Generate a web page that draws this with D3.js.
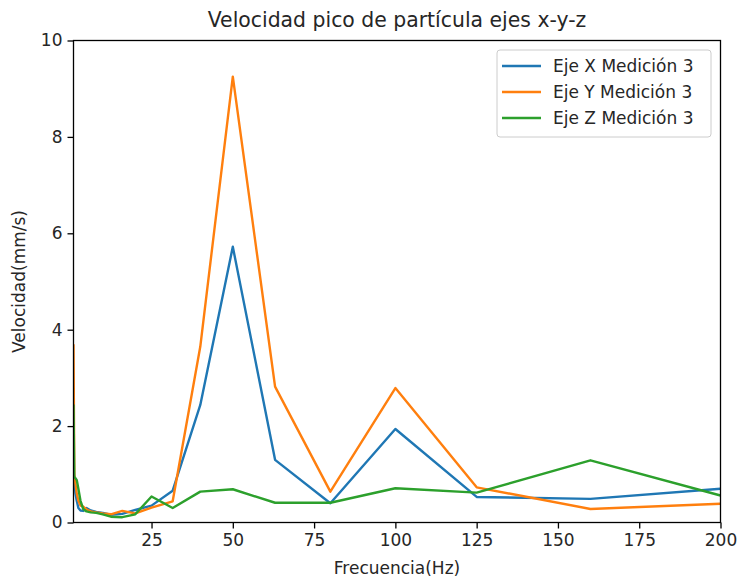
<!DOCTYPE html>
<html>
<head>
<meta charset="utf-8">
<script src="https://cdn.jsdelivr.net/npm/d3@7"></script>
<style>
  body { margin: 0; background: #fff; }
  text { font-family: "DejaVu Sans", sans-serif; fill: #262626; }
</style>
</head>
<body>
<div id="chart"></div>
<script>
// frecuencias de tercio de octava
const frecuencias = [1, 1.25, 1.6, 2, 2.5, 3.15, 4, 5, 6.3, 8, 10, 12.5, 16, 20, 25, 31.5, 40, 50, 63, 80, 100, 125, 160, 200];
const ejeX = [1.0, 0.9, 0.6, 0.45, 0.3, 0.25, 0.24, 0.3, 0.25, 0.22, 0.2, 0.16, 0.18, 0.26, 0.35, 0.66, 2.44, 5.72, 1.3, 0.4, 1.94, 0.53, 0.49, 0.70];
const ejeY = [3.7, 1.0, 0.8, 0.6, 0.45, 0.35, 0.33, 0.27, 0.23, 0.21, 0.19, 0.17, 0.24, 0.19, 0.31, 0.44, 3.65, 9.25, 2.82, 0.64, 2.79, 0.73, 0.28, 0.39];
const ejeZ = [2.45, 0.95, 0.92, 0.88, 0.7, 0.45, 0.28, 0.23, 0.21, 0.2, 0.17, 0.12, 0.11, 0.17, 0.54, 0.30, 0.64, 0.69, 0.41, 0.41, 0.71, 0.62, 1.29, 0.56];
const series = [
    {name: "Eje X Medición 3", values: ejeX, color: "#1f77b4"},
    {name: "Eje Y Medición 3", values: ejeY, color: "#ff7f0e"},
    {name: "Eje Z Medición 3", values: ejeZ, color: "#2ca02c"}
];
const xTicks = [25, 50, 75, 100, 125, 150, 175, 200];
const yTicks = [0, 2, 4, 6, 8, 10];

const width = 739, height = 581;
const margin = {top: 40.5, right: 18.5, bottom: 58.5, left: 73.5};

const svg = d3.select("#chart")
    .append("svg")
    .attr("width", width)
    .attr("height", height);

const x = d3.scaleLinear()
    .domain([1, 200])
    .range([margin.left, width - margin.right]);

const y = d3.scaleLinear()
    .domain([0, 10])
    .range([height - margin.bottom, margin.top]);

// lineas
const line = d3.line()
    .x((d, i) => x(frecuencias[i]))
    .y(d => y(d));

const plot = svg.append("g");
plot.append("clipPath").attr("id", "clip")
    .append("rect")
    .attr("x", margin.left).attr("y", margin.top)
    .attr("width", width - margin.left - margin.right)
    .attr("height", height - margin.top - margin.bottom);

plot.selectAll("path.serie")
    .data(series)
    .join("path")
    .attr("class", "serie")
    .attr("clip-path", "url(#clip)")
    .attr("fill", "none")
    .attr("stroke", d => d.color)
    .attr("stroke-width", 2.4)
    .attr("stroke-linejoin", "round")
    .attr("d", d => line(d.values));

// ejes
const xAxis = svg.append("g")
    .attr("transform", `translate(0,${height - margin.bottom})`)
    .call(d3.axisBottom(x).tickValues(xTicks).tickSize(6).tickPadding(5));

const yAxis = svg.append("g")
    .attr("transform", `translate(${margin.left},0)`)
    .call(d3.axisLeft(y).tickValues(yTicks).tickSize(6).tickPadding(5));

[xAxis, yAxis].forEach(a => {
    a.select(".domain").remove();
    a.selectAll("line").attr("stroke", "#000").attr("stroke-width", 1.3);
    a.selectAll("text").style("font-size", "17px").attr("fill", "#262626");
});

// marco
svg.append("rect")
    .attr("x", margin.left).attr("y", margin.top)
    .attr("width", width - margin.left - margin.right)
    .attr("height", height - margin.top - margin.bottom)
    .attr("fill", "none")
    .attr("stroke", "#000")
    .attr("stroke-width", 1.3);

// titulos
svg.append("text")
    .attr("x", (margin.left + width - margin.right) / 2)
    .attr("y", 27)
    .attr("text-anchor", "middle")
    .style("font-size", "20.4px")
    .text("Velocidad pico de partícula ejes x-y-z");

svg.append("text")
    .attr("x", (margin.left + width - margin.right) / 2)
    .attr("y", 574)
    .attr("text-anchor", "middle")
    .style("font-size", "17px")
    .text("Frecuencia(Hz)");

svg.append("text")
    .attr("transform", `translate(25,${(margin.top + height - margin.bottom) / 2}) rotate(-90)`)
    .attr("text-anchor", "middle")
    .style("font-size", "17px")
    .text("Velocidad(mm/s)");

// leyenda
const legend = svg.append("g")
    .attr("transform", "translate(497,50)");

legend.append("rect")
    .attr("width", 214).attr("height", 87)
    .attr("rx", 3)
    .attr("fill", "#fff")
    .attr("fill-opacity", 0.8)
    .attr("stroke", "#ccc");

const items = legend.selectAll("g.item")
    .data(series)
    .join("g")
    .attr("class", "item")
    .attr("transform", (d, i) => `translate(0,${16 + i * 26})`);

items.append("line")
    .attr("x1", 5).attr("x2", 44)
    .attr("stroke", d => d.color)
    .attr("stroke-width", 2.4);

items.append("text")
    .attr("x", 56)
    .attr("dy", "0.35em")
    .style("font-size", "17px")
    .text(d => d.name);
</script>
</body>
</html>
